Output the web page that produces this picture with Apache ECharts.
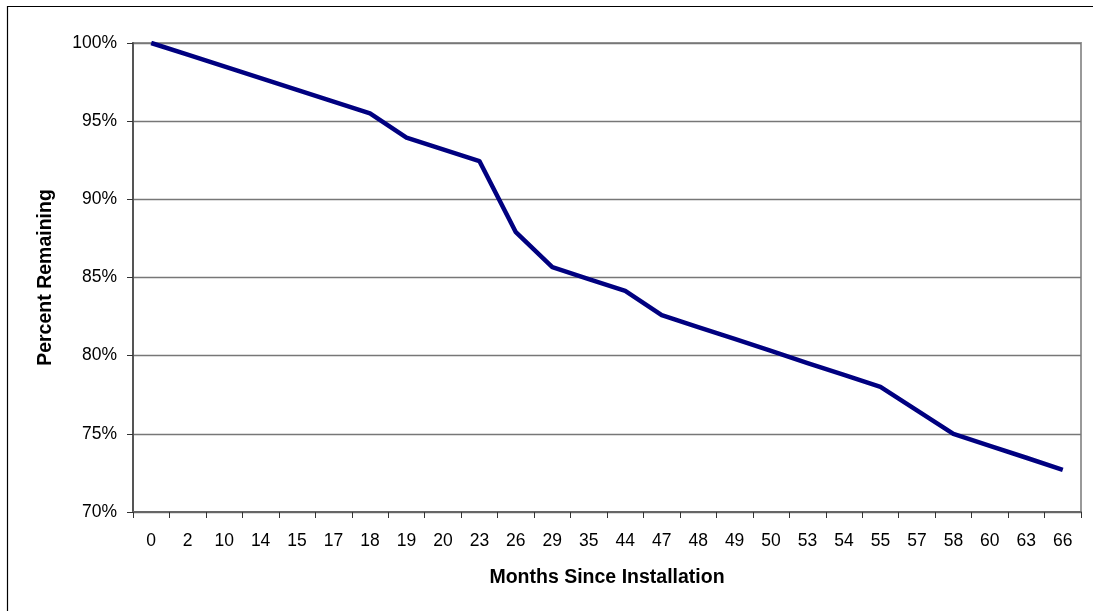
<!DOCTYPE html>
<html><head><meta charset="utf-8">
<script src="https://cdn.jsdelivr.net/npm/echarts@6/dist/echarts.min.js"></script>
<style>html,body{margin:0;padding:0;background:#fff}#c{width:1093px;height:611px}</style>
</head><body><div id="c"></div>
<script>
var categories = ['0','2','10','14','15','17','18','19','20','23','26','29','35','44','47','48','49','50','53','54','55','57','58','60','63','66'];
var percentRemaining = [100, 99.25, 98.5, 97.75, 97, 96.25, 95.5, 93.95, 93.2, 92.45, 87.9, 85.66, 84.9, 84.14, 82.6, 81.83, 81.07, 80.3, 79.53, 78.77, 78.0, 76.5, 75.0, 74.23, 73.47, 72.7];
var yTicks = {min: 70, max: 100, interval: 5};

var chart = echarts.init(document.getElementById('c'), null, {renderer: 'canvas'});
chart.setOption({
  animation: false,
  backgroundColor: '#fff',
  graphic: [{
    type: 'rect', shape: {x: 7.5, y: 6.5, width: 1100, height: 620},
    style: {fill: 'none', stroke: '#000', lineWidth: 1.2}, silent: true
  }, {
    type: 'rect', shape: {x: 133, y: 43, width: 948, height: 469},
    style: {fill: 'none', stroke: '#999', lineWidth: 2}, silent: true, z: 0
  }],
  grid: {left: 133, top: 43, right: 12, bottom: 99, containLabel: false},
  xAxis: {
    type: 'category', data: categories, boundaryGap: true,
    name: 'Months Since Installation', nameLocation: 'middle', nameGap: 56,
    nameTextStyle: {fontFamily: 'Liberation Sans', fontWeight: 'bold', fontSize: 19.5, color: '#000'},
    axisLine: {lineStyle: {color: '#666', width: 2}},
    axisTick: {show: true, length: 6, inside: false, alignWithLabel: false, lineStyle: {color: '#333', width: 1}},
    axisLabel: {fontFamily: 'Liberation Sans', fontSize: 17.5, color: '#000', margin: 20, interval: 0},
    splitLine: {show: false}
  },
  yAxis: {
    type: 'value', min: yTicks.min, max: yTicks.max, interval: yTicks.interval,
    name: 'Percent Remaining', nameLocation: 'middle', nameGap: 77, nameRotate: 90,
    nameTextStyle: {fontFamily: 'Liberation Sans', fontWeight: 'bold', fontSize: 19.5, color: '#000'},
    axisLine: {show: true, lineStyle: {color: '#555', width: 2}},
    axisTick: {show: true, length: 6, lineStyle: {color: '#333', width: 1}},
    axisLabel: {fontFamily: 'Liberation Sans', fontSize: 17.5, color: '#000', margin: 16, formatter: '{value}%'},
    splitLine: {show: true, lineStyle: {color: '#777', width: 1.3}}
  },
  series: [{
    type: 'line', data: percentRemaining, symbol: 'none',
    lineStyle: {color: '#000080', width: 4.5, join: 'round'},
    z: 5
  }]
});
</script></body></html>
